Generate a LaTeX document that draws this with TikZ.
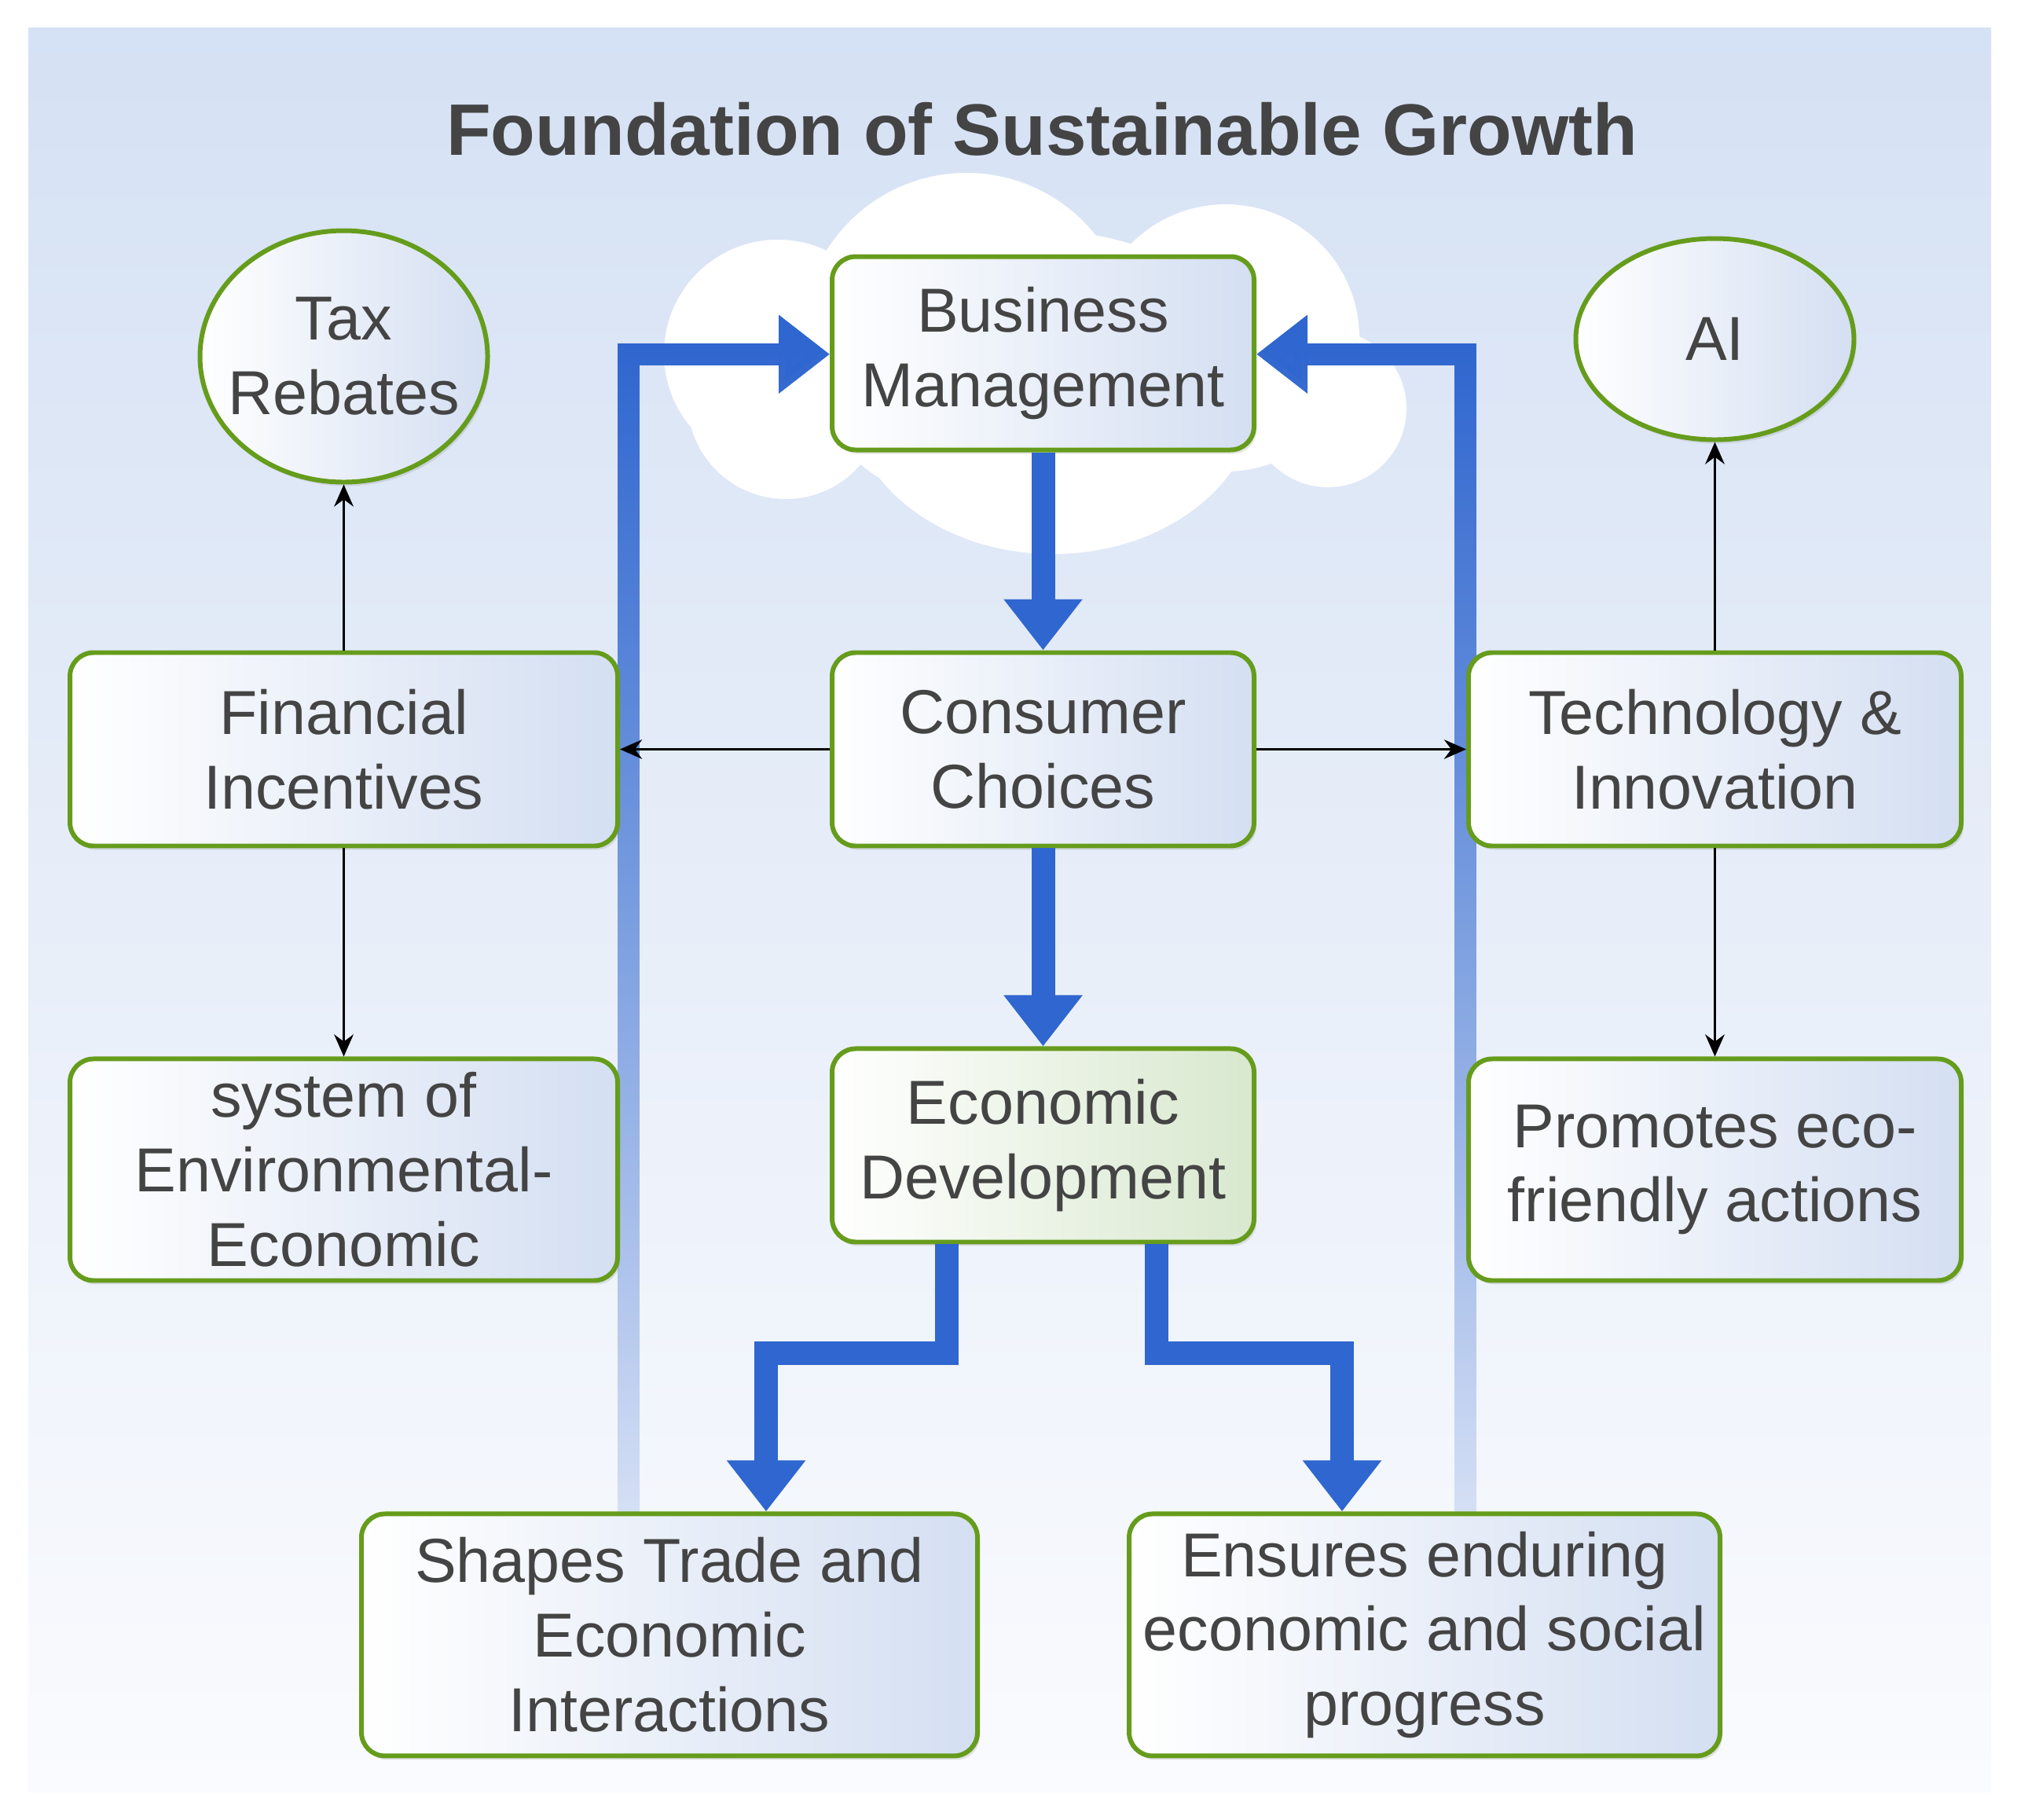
\documentclass[tikz,border=0pt]{standalone}
\usepackage{fontspec}
\setmainfont{Liberation Sans}
\usepackage{tikz}
\usetikzlibrary{positioning,arrows.meta,shapes.geometric,shadows,fadings,backgrounds}

\definecolor{leafgreen}{RGB}{102,156,28}
\definecolor{flowblue}{RGB}{47,102,207}
\definecolor{inkgray}{RGB}{68,68,68}
\definecolor{boxblue}{RGB}{212,223,242}
\definecolor{boxgreen}{RGB}{216,232,206}
\definecolor{skytop}{RGB}{213,225,244}
\definecolor{skybottom}{RGB}{250,251,254}

\tikzfading[name=fadeup, top color=transparent!0, bottom color=transparent!85]

\begin{document}
\begin{tikzpicture}[>={Stealth[length=8pt,width=7pt]}]
  \tikzset{Inside/.style={text=inkgray, align=center, font=\fontsize{22.5}{27}\selectfont}}
  \tikzset{Box/.style={Inside, draw=leafgreen, line width=1.7pt, rounded corners=0.3cm,
      left color=white, right color=boxblue, minimum width=5.37cm, minimum height=2.46cm,
      drop shadow={shadow xshift=0.03cm, shadow yshift=-0.05cm, opacity=0.2}}}
  \tikzset{Oval/.style={Box, ellipse, sharp corners, inner sep=0pt}}
  \tikzset{Link/.style={->, black, line width=0.9pt}}
  \tikzset{Flow/.style={flowblue, line width=0.3cm, -{Triangle[width=0.96cm,length=0.65cm]}}}
  \tikzset{Feedback/.style={Flow, line width=0.28cm, path fading=fadeup}}

  \useasboundingbox (0,0) rectangle (25.67,-23.16);

  % panel and cloud
  \begin{scope}[on background layer]
    \fill[white] (0,0) rectangle (25.67,-23.16);
    \shade[top color=skytop, bottom color=skybottom] (0.36,-0.36) rectangle (25.34,-22.80);
    \fill[white] (12.3,-4.3) circle (2.1) (15.6,-4.3) circle (1.7) (16.9,-5.2) circle (1.0)
      (10.0,-5.1) circle (1.25) (9.9,-4.5) circle (1.45) (13.4,-5.0) ellipse (2.6 and 2.05);
  \end{scope}

  \node[font=\bfseries\fontsize{26.4}{30}\selectfont, text=inkgray] (title) at (13.26,-1.64)
    {Foundation of Sustainable Growth};

  \node[Box] (cc) at (13.275,-9.535) {Consumer\\Choices};
  \node[Box, above=2.52cm of cc] (bm) {Business\\Management};
  \node[Box, right color=boxgreen, below=2.52cm of cc] (ed) {Economic\\Development};

  \node[Box, minimum width=6.97cm, left=2.67cm of cc] (fi) {Financial\\Incentives};
  \node[Box, minimum width=6.97cm, minimum height=2.82cm, below=2.65cm of fi] (sys)
    {system of\\Environmental-\\Economic};
  \node[Oval, minimum width=3.66cm, minimum height=3.2cm, above=2.11cm of fi,
    label={[Inside]center:Tax\\Rebates}] (tax) {};

  \node[Box, minimum width=6.27cm, right=2.67cm of cc] (ti) {Technology \&\\Innovation};
  \node[Box, minimum width=6.27cm, minimum height=2.82cm, below=2.65cm of ti] (promo)
    {Promotes eco-\\friendly actions};
  \node[Oval, minimum width=3.54cm, minimum height=2.56cm, above=2.65cm of ti,
    label={[Inside]center:AI}] (ai) {};

  \node[Box, minimum width=7.84cm, minimum height=3.08cm, below=3.4cm of ed, xshift=-4.755cm] (trade)
    {Shapes Trade and\\Economic\\Interactions};
  \node[Box, minimum width=7.52cm, minimum height=3.08cm, below=3.4cm of ed, xshift=4.855cm] (progress)
    {Ensures enduring\\economic and social\\progress};

  % main flow
  \draw[Flow] (bm) -- (cc);
  \draw[Flow] (cc) -- (ed);
  \draw[Flow] ([xshift=-1.225cm]ed.south) -- ++(0,-1.39) -| ([xshift=1.23cm]trade.north);
  \draw[Flow] ([xshift=1.445cm]ed.south) -- ++(0,-1.39) -| ([xshift=-1.05cm]progress.north);

  % feedback to management
  \begin{scope}[on background layer]
    \draw[Feedback] ([xshift=-0.52cm]trade.north) |- (bm.west);
    \draw[Feedback] ([xshift=0.52cm]progress.north) |- (bm.east);
  \end{scope}

  \draw[Link] (cc) -- (fi);
  \draw[Link] (cc) -- (ti);
  \draw[Link] (fi) -- (tax);
  \draw[Link] (fi) -- (sys);
  \draw[Link] (ti) -- (ai);
  \draw[Link] (ti) -- (promo);
\end{tikzpicture}
\end{document}
